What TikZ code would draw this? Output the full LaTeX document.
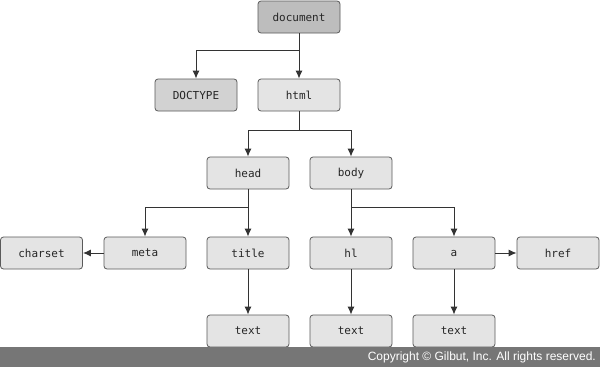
\documentclass[tikz,border=0pt]{standalone}
\usepackage{fontspec}
\setmainfont{Liberation Sans}
\newfontfamily\boxfont{DejaVu Sans Mono}
\usetikzlibrary{arrows.meta}
\definecolor{dark}{HTML}{BDBDBD}
\definecolor{mid}{HTML}{D2D2D2}
\definecolor{light}{HTML}{E4E4E4}
\definecolor{edge}{HTML}{5A5A5A}
\definecolor{barc}{HTML}{767676}
\begin{document}
\begin{tikzpicture}[x=1pt,y=-1pt,
  box/.style={draw=edge,line width=0.8pt,rounded corners=3pt,minimum width=82pt,minimum height=32pt,inner sep=0pt,font=\boxfont\fontsize{11}{12}\selectfont,fill=light,text=black!85},
  conn/.style={draw=black!80,line width=1pt,-{Latex[length=8pt,width=7pt]}},
  plain/.style={draw=black!80,line width=1pt}]
\useasboundingbox (0,0) rectangle (600,367);
\fill[white] (0,0) rectangle (600,367);
\node[box,fill=dark] (doc) at (299,17) {document};
\node[box,fill=mid] (dt) at (196,95) {DOCTYPE};
\node[box] (html) at (299,95) {html};
\node[box] (head) at (248,173) {head};
\node[box] (body) at (351,173) {body};
\node[box] (charset) at (41.5,253) {charset};
\node[box] (meta) at (145,253) {meta};
\node[box] (title) at (248,253) {title};
\node[box] (h1) at (351,253) {hl};
\node[box] (a) at (454,253) {a};
\node[box] (href) at (558,253) {href};
\node[box] (t1) at (248,331) {text};
\node[box] (t2) at (351,331) {text};
\node[box] (t3) at (454,331) {text};
\coordinate (j1) at (299,50);
\coordinate (j2) at (299,130);
\coordinate (j3) at (248,207);
\coordinate (j4) at (351,207);
\draw[conn] (doc.south) -- (html.north);
\draw[conn] (j1) -| (dt.north);
\draw[plain] (html.south) -- (j2);
\draw[conn] (j2) -| (head.north);
\draw[conn] (j2) -| (body.north);
\draw[conn] (head.south) -- (title.north);
\draw[conn] (j3) -| (meta.north);
\draw[conn] (body.south) -- (h1.north);
\draw[conn] (j4) -| (a.north);
\draw[conn] (meta.west) -- (charset.east);
\draw[conn] (a.east) -- (href.west);
\draw[conn] (title.south) -- (t1.north);
\draw[conn] (h1.south) -- (t2.north);
\draw[conn] (a.south) -- (t3.north);
\fill[barc] (0,347) rectangle (600,367);
\node[anchor=east,text=white,font=\fontsize{12}{13}\selectfont,inner sep=0pt] (copy) at (596,357.5) {Copyright © Gilbut, Inc. All rights reserved.};
\end{tikzpicture}
\end{document}
